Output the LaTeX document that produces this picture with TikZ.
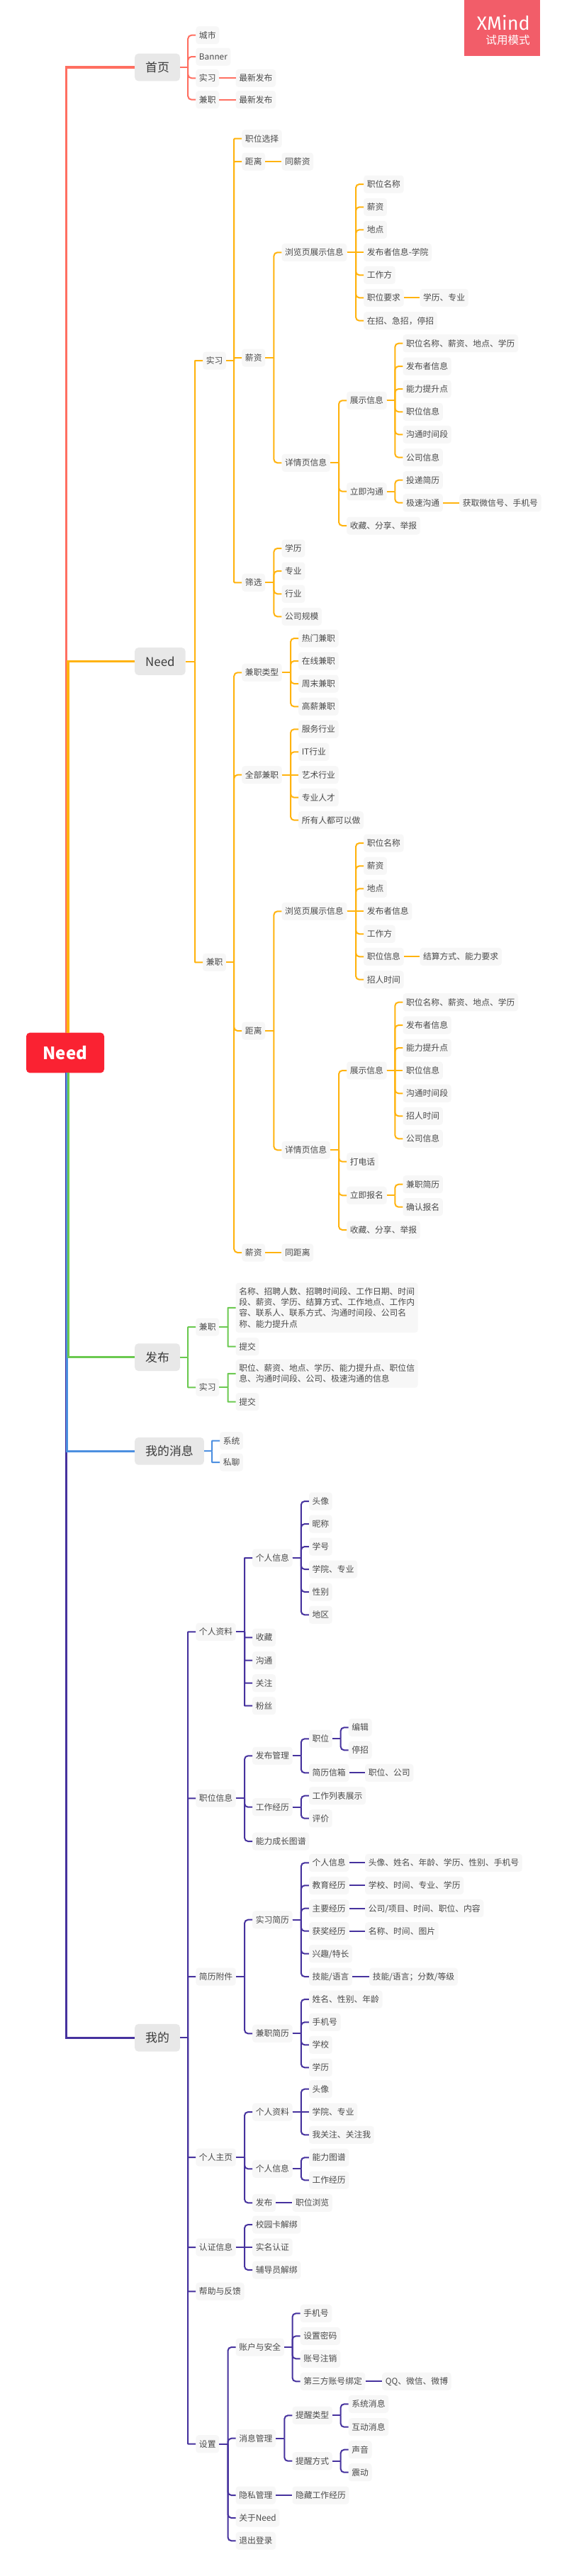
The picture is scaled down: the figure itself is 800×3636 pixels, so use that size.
\documentclass[tikz,border=0pt]{standalone}
\usepackage{fontspec}
\setmainfont{Noto Sans CJK SC}
\newfontfamily\xmfont{Fira Sans}
\definecolor{cRed}{HTML}{FF6F61}
\definecolor{cOrange}{HTML}{FFB30F}
\definecolor{cGreen}{HTML}{6BC950}
\definecolor{cBlue}{HTML}{4C8FE0}
\definecolor{cPurple}{HTML}{46329E}
\definecolor{cRoot}{HTML}{FA2232}
\definecolor{cMark}{HTML}{F25D69}
\definecolor{cLeaf}{HTML}{F7F7F7}
\definecolor{cMain}{HTML}{E8E8E8}
\definecolor{cText}{HTML}{4A4A4A}
\colorlet{lc}{cRed}
\tikzset{
 leaf/.style={anchor=west,fill=cLeaf,rounded corners=4pt,text=cText,inner xsep=4.55pt,inner ysep=0pt,
   minimum height=25pt,text height=10.4pt,text depth=1.4pt,font=\fontsize{11.8}{15.3}\selectfont},
 para/.style={anchor=west,fill=cLeaf,rounded corners=4pt,text=cText,inner xsep=4.55pt,inner ysep=0pt,
   align=left,font=\fontsize{11.8}{15.3}\selectfont},
 mainnode/.style={anchor=west,fill=cMain,rounded corners=5pt,text=cText!80!black,inner xsep=15pt,inner ysep=0pt,
   minimum height=38.7pt,text height=15pt,text depth=2pt,font=\fontsize{16.9}{20}\selectfont},
 rootnode/.style={anchor=center,fill=cRoot,rounded corners=5pt,text=white,minimum width=110pt,minimum height=56.7pt,
   inner sep=0pt,font=\fontsize{24}{28}\selectfont\bfseries},
 link/.style={draw=lc,line width=2pt},
 trunk/.style={line width=3.3pt},
}
\newcommand\nd[4]{\node[leaf] (#1) at (#2,#3) {#4};}
\newcommand\links[3][5]{%
 \foreach \c in {#3}{%
  \path (\c.west); \pgfgetlastxy{\cxx}{\cyy}%
  \path (#2.east); \pgfgetlastxy{\pxx}{\pyy}%
  \pgfmathtruncatemacro\samey{abs(\cyy-\pyy)<0.5 ? 1 : 0}%
  \ifnum\samey=1
   \draw[link] (#2.east) -- (\c.west);
  \else
   \path (\c.west) ++(-11,0) coordinate (tk);
   \draw[link] (#2.east) -- (#2.east -| tk);
   \draw[link,rounded corners=#1pt] (#2.east -| tk) |- (\c.west);
  \fi
 }}
\newcommand\mainlink[3]{\draw[trunk,draw=#3] (#1) |- (#2.west);}
\begin{document}
\begin{tikzpicture}[x=1pt,y=-1pt]
\useasboundingbox (0,0) rectangle (800,3636);
\fill[white] (0,0) rectangle (800,3636);
% watermark
\node[fill=cMark,minimum width=107pt,minimum height=78.7pt,inner sep=0pt] (mark) at (708.5,39.35) {};
\node[anchor=east,text=white,inner sep=0pt,font=\xmfont\fontsize{27}{30}\selectfont] (markA) at (748,32.5) {XMind};
\node[anchor=east,text=white,inner sep=0pt,font=\fontsize{15.6}{18}\selectfont] (markB) at (748,56.7) {试用模式};
% ---- main
\node[rootnode] (root) at (92,1486) {Need};
\node[mainnode] (home) at (190,95) {首页};
\node[mainnode] (need) at (190,933.5) {Need};
\node[mainnode] (pub) at (190,1915.7) {发布};
\node[mainnode] (msg) at (190,2048.3) {我的消息};
\node[mainnode] (mine) at (190,2876.3) {我的};
\coordinate (rA) at (93.6,1458);
\coordinate (rB) at (96,1458);
\coordinate (rC) at (93.6,1514);
\coordinate (rD) at (94.8,1514);
\coordinate (rE) at (96.2,1514);
\mainlink{rC}{mine}{cPurple}
\mainlink{rD}{msg}{cBlue}
\mainlink{rE}{pub}{cGreen}
\mainlink{rA}{home}{cRed}
\mainlink{rB}{need}{cOrange}
% ---- home
\nd{hA}{276.2}{49.7}{城市}
\nd{hB}{276.2}{80}{Banner}
\nd{hC}{276.2}{110.3}{实习}
\nd{hD}{276.2}{140.7}{兼职}
\nd{hCa}{332.5}{110.3}{最新发布}
\nd{hDa}{332.5}{140.7}{最新发布}
\colorlet{lc}{cRed}
\links{home}{hA,hB,hC,hD}
\links{hC}{hCa}
\links{hD}{hDa}
% ---- need
\nd{nI}{286}{509}{实习}
\nd{nJ}{286}{1358.3}{兼职}
\nd{iA}{341.2}{195.7}{职位选择}
\nd{iB}{341.2}{228}{距离}
\nd{iC}{341.2}{505}{薪资}
\nd{iD}{341.2}{822.3}{筛选}
\nd{iBa}{397.4}{228}{同薪资}
\nd{iCa}{397.4}{356.3}{浏览页展示信息}
\nd{iCb}{397.4}{653.3}{详情页信息}
\nd{aA}{513}{260}{职位名称}
\nd{aB}{513}{292.3}{薪资}
\nd{aC}{513}{324.3}{地点}
\nd{aD}{513}{356.3}{发布者信息-学院}
\nd{aE}{513}{388.3}{工作方}
\nd{aF}{513}{420.3}{职位要求}
\nd{aG}{513}{452.7}{在招、急招，停招}
\nd{aFa}{592.3}{420.3}{学历、专业}
\nd{bA}{489}{565.3}{展示信息}
\nd{bB}{489}{693.7}{立即沟通}
\nd{bC}{489}{742}{收藏、分享、举报}
\nd{bAa}{568.3}{484.7}{职位名称、薪资、地点、学历}
\nd{bAb}{568.3}{517}{发布者信息}
\nd{bAc}{568.3}{549}{能力提升点}
\nd{bAd}{568.3}{581.3}{职位信息}
\nd{bAe}{568.3}{613.3}{沟通时间段}
\nd{bAf}{568.3}{645.7}{公司信息}
\nd{bBa}{568.3}{677.7}{投递简历}
\nd{bBb}{568.3}{709.7}{极速沟通}
\nd{bBc}{648}{709.7}{获取微信号、手机号}
\nd{dA}{397.4}{774}{学历}
\nd{dB}{397.4}{806}{专业}
\nd{dC}{397.4}{838.3}{行业}
\nd{dD}{397.4}{870.3}{公司规模}
\nd{jA}{341.2}{949.3}{兼职类型}
\nd{jB}{341.2}{1093.7}{全部兼职}
\nd{jC}{341.2}{1455}{距离}
\nd{jD}{341.2}{1768}{薪资}
\nd{kA}{421}{901}{热门兼职}
\nd{kB}{421}{933}{在线兼职}
\nd{kC}{421}{965}{周末兼职}
\nd{kD}{421}{997.3}{高薪兼职}
\nd{lA}{421}{1029.3}{服务行业}
\nd{lB}{421}{1061.3}{IT行业}
\nd{lC}{421}{1093.7}{艺术行业}
\nd{lD}{421}{1125.7}{专业人才}
\nd{lE}{421}{1157.7}{所有人都可以做}
\nd{mA}{397.4}{1286.3}{浏览页展示信息}
\nd{mB}{397.4}{1623.3}{详情页信息}
\nd{oA}{513}{1190}{职位名称}
\nd{oB}{513}{1222.3}{薪资}
\nd{oC}{513}{1254.3}{地点}
\nd{oD}{513}{1286.3}{发布者信息}
\nd{oE}{513}{1318.3}{工作方}
\nd{oF}{513}{1350.3}{职位信息}
\nd{oG}{513}{1382.7}{招人时间}
\nd{oFa}{592.3}{1350.3}{结算方式、能力要求}
\nd{pA}{489}{1511}{展示信息}
\nd{pB}{489}{1639.7}{打电话}
\nd{pC}{489}{1687.3}{立即报名}
\nd{pD}{489}{1736}{收藏、分享、举报}
\nd{qA}{568.3}{1414.7}{职位名称、薪资、地点、学历}
\nd{qB}{568.3}{1447}{发布者信息}
\nd{qC}{568.3}{1479}{能力提升点}
\nd{qD}{568.3}{1511}{职位信息}
\nd{qE}{568.3}{1543.3}{沟通时间段}
\nd{qF}{568.3}{1575.3}{招人时间}
\nd{qG}{568.3}{1607.3}{公司信息}
\nd{rX}{568.3}{1671.7}{兼职简历}
\nd{rY}{568.3}{1703.7}{确认报名}
\nd{jDa}{397.4}{1768}{同距离}
\colorlet{lc}{cOrange}
\links[0.5]{need}{nI,nJ}
\links[1]{nI}{iA,iB,iC,iD}
\links{nJ}{jA,jB,jC,jD}
\links{iB}{iBa}
\links{iC}{iCa,iCb}
\links{iCa}{aA,aB,aC,aD,aE,aF,aG}
\links{aF}{aFa}
\links{iCb}{bA,bB,bC}
\links{bA}{bAa,bAb,bAc,bAd,bAe,bAf}
\links{bB}{bBa,bBb}
\links{bBb}{bBc}
\links{iD}{dA,dB,dC,dD}
\links{jA}{kA,kB,kC,kD}
\links{jB}{lA,lB,lC,lD,lE}
\links{jC}{mA,mB}
\links{mA}{oA,oB,oC,oD,oE,oF,oG}
\links{oF}{oFa}
\links{mB}{pA,pB,pC,pD}
\links{pA}{qA,qB,qC,qD,qE,qF,qG}
\links{pC}{rX,rY}
\links{jD}{jDa}
% ---- publish
\nd{uJ}{276.2}{1873}{兼职}
\nd{uI}{276.2}{1958.3}{实习}
\node[para,minimum height=70.3pt] (uJa) at (332.5,1845.8) {名称、招聘人数、招聘时间段、工作日期、时间\\段、薪资、学历、结算方式、工作地点、工作内\\容、联系人、联系方式、沟通时间段、公司名\\称、能力提升点};
\nd{uJb}{332.5}{1900.7}{提交}
\node[para,minimum height=39.7pt] (uIa) at (332.5,1938.8) {职位、薪资、地点、学历、能力提升点、职位信\\息、沟通时间段、公司、极速沟通的信息};
\nd{uIb}{332.5}{1978.7}{提交}
\colorlet{lc}{cGreen}
\links[0.5]{pub}{uJ,uI}
\links[0.5]{uJ}{uJa,uJb}
\links[0.5]{uI}{uIa,uIb}
% ---- messages
\nd{vA}{310}{2033.7}{系统}
\nd{vB}{310}{2064}{私聊}
\colorlet{lc}{cBlue}
\links[0.5]{msg}{vA,vB}
% ---- mine
\nd{wA}{276.2}{2303.3}{个人资料}
\nd{wB}{276.2}{2538.3}{职位信息}
\nd{wC}{276.2}{2790}{简历附件}
\nd{wD}{276.2}{3045}{个人主页}
\nd{wE}{276.2}{3172}{认证信息}
\nd{wF}{276.2}{3234.3}{帮助与反馈}
\nd{wG}{276.2}{3449.7}{设置}
\nd{xA}{356}{2199}{个人信息}
\nd{xB}{356}{2311.3}{收藏}
\nd{xC}{356}{2343.7}{沟通}
\nd{xD}{356}{2375.7}{关注}
\nd{xE}{356}{2407.7}{粉丝}
\nd{xAa}{435.8}{2119}{头像}
\nd{xAb}{435.8}{2151}{昵称}
\nd{xAc}{435.8}{2183}{学号}
\nd{xAd}{435.8}{2215}{学院、专业}
\nd{xAe}{435.8}{2247}{性别}
\nd{xAf}{435.8}{2279.3}{地区}
\nd{yA}{356}{2478.3}{发布管理}
\nd{yB}{356}{2550.7}{工作经历}
\nd{yC}{356}{2599}{能力成长图谱}
\nd{yAa}{435.8}{2454.3}{职位}
\nd{yAb}{435.8}{2502.3}{简历信箱}
\nd{yAaa}{491.6}{2438.3}{编辑}
\nd{yAab}{491.6}{2470.3}{停招}
\nd{yAba}{515}{2502.3}{职位、公司}
\nd{yBa}{435.8}{2534.7}{工作列表展示}
\nd{yBb}{435.8}{2566.7}{评价}
\nd{zA}{356}{2709.7}{实习简历}
\nd{zB}{356}{2870.3}{兼职简历}
\nd{zAa}{435.8}{2629.3}{个人信息}
\nd{zAb}{435.8}{2661.3}{教育经历}
\nd{zAc}{435.8}{2693.7}{主要经历}
\nd{zAd}{435.8}{2725.7}{获奖经历}
\nd{zAe}{435.8}{2757.7}{兴趣/特长}
\nd{zAf}{435.8}{2790}{技能/语言}
\nd{zAaa}{515}{2629.3}{头像、姓名、年龄、学历、性别、手机号}
\nd{zAba}{515}{2661.3}{学校、时间、专业、学历}
\nd{zAca}{515}{2693.7}{公司/项目、时间、职位、内容}
\nd{zAda}{515}{2725.7}{名称、时间、图片}
\nd{zAfa}{521}{2790}{技能/语言；分数/等级}
\nd{zBa}{435.8}{2822}{姓名、性别、年龄}
\nd{zBb}{435.8}{2854.3}{手机号}
\nd{zBc}{435.8}{2886.3}{学校}
\nd{zBd}{435.8}{2918.3}{学历}
\nd{gA}{356}{2981}{个人资料}
\nd{gB}{356}{3061.3}{个人信息}
\nd{gC}{356}{3109.3}{发布}
\nd{gAa}{435.8}{2948.7}{头像}
\nd{gAb}{435.8}{2981}{学院、专业}
\nd{gAc}{435.8}{3013.3}{我关注、关注我}
\nd{gBa}{435.8}{3045.3}{能力图谱}
\nd{gBb}{435.8}{3077.3}{工作经历}
\nd{gCa}{412.3}{3109.3}{职位浏览}
\nd{cA}{356}{3140}{校园卡解绑}
\nd{cB}{356}{3172}{实名认证}
\nd{cC}{356}{3204}{辅导员解绑}
\nd{sA}{332.5}{3313}{账户与安全}
\nd{sB}{332.5}{3441.7}{消息管理}
\nd{sC}{332.5}{3522}{隐私管理}
\nd{sD}{332.5}{3554}{关于Need}
\nd{sE}{332.5}{3586.3}{退出登录}
\nd{sAa}{423.5}{3265.3}{手机号}
\nd{sAb}{423.5}{3297.3}{设置密码}
\nd{sAc}{423.5}{3329.3}{账号注销}
\nd{sAd}{423.5}{3361.3}{第三方账号绑定}
\nd{sAda}{539}{3361.3}{QQ、微信、微博}
\nd{sBa}{412.3}{3409.3}{提醒类型}
\nd{sBb}{412.3}{3473.7}{提醒方式}
\nd{sBaa}{491.6}{3393.3}{系统消息}
\nd{sBab}{491.6}{3425.7}{互动消息}
\nd{sBba}{491.6}{3457.7}{声音}
\nd{sBbb}{491.6}{3489.7}{震动}
\nd{sCa}{412.3}{3522}{隐藏工作经历}
\colorlet{lc}{cPurple}
\links[0.5]{mine}{wA,wB,wC,wD,wE,wF,wG}
\links[0.5]{wA}{xA,xB,xC,xD,xE}
\links{xA}{xAa,xAb,xAc,xAd,xAe,xAf}
\links{wB}{yA,yB,yC}
\links{yA}{yAa,yAb}
\links{yAa}{yAaa,yAab}
\links{yAb}{yAba}
\links{yB}{yBa,yBb}
\links{wC}{zA,zB}
\links{zA}{zAa,zAb,zAc,zAd,zAe,zAf}
\links{zAa}{zAaa}
\links{zAb}{zAba}
\links{zAc}{zAca}
\links{zAd}{zAda}
\links{zAf}{zAfa}
\links{zB}{zBa,zBb,zBc,zBd}
\links{wD}{gA,gB,gC}
\links{gA}{gAa,gAb,gAc}
\links{gB}{gBa,gBb}
\links{gC}{gCa}
\links{wE}{cA,cB,cC}
\links{wG}{sA,sB,sC,sD,sE}
\links{sA}{sAa,sAb,sAc,sAd}
\links{sAd}{sAda}
\links{sB}{sBa,sBb}
\links{sBa}{sBaa,sBab}
\links{sBb}{sBba,sBbb}
\links{sC}{sCa}
\end{tikzpicture}
\end{document}
